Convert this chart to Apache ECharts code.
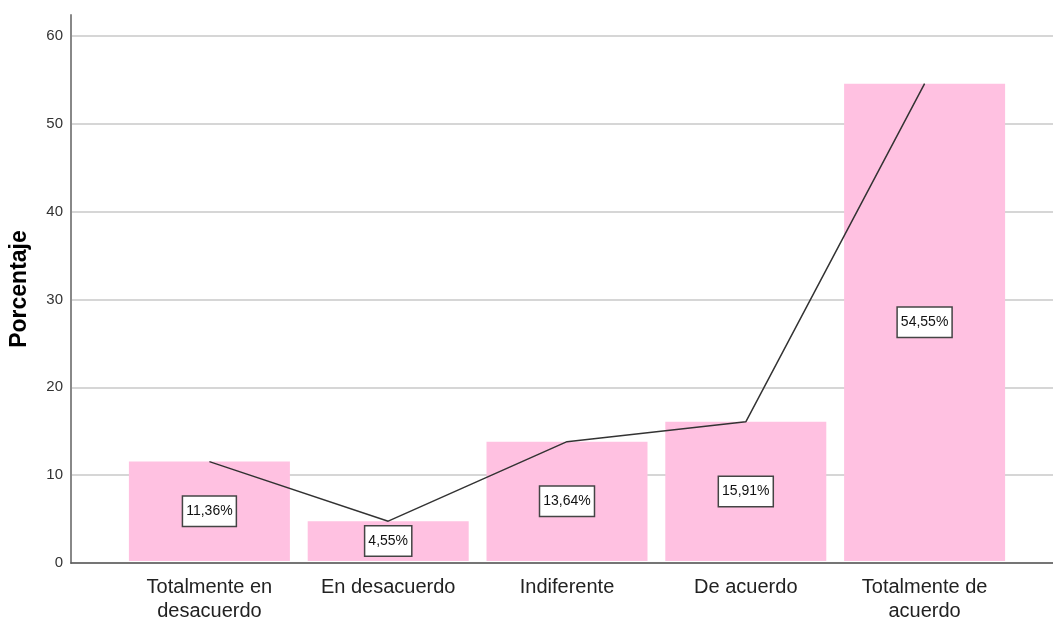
<!DOCTYPE html>
<html>
<head>
<meta charset="utf-8">
<script src="https://cdn.jsdelivr.net/npm/echarts@6/dist/echarts.min.js"></script>
<style>
  html, body { margin: 0; padding: 0; background: #fff; }
  #chart { width: 1053px; height: 623px; }
</style>
</head>
<body>
<div id="chart"></div>
<script>
// datos del gráfico
var categorias = ['Totalmente en\ndesacuerdo', 'En desacuerdo', 'Indiferente', 'De acuerdo', 'Totalmente de\nacuerdo'];
var porcentajes = [11.36, 4.55, 13.64, 15.91, 54.55];
var ticksY = [0, 10, 20, 30, 40, 50, 60];

var fuente = '"Liberation Sans", Arial, sans-serif';
var chart = echarts.init(document.getElementById('chart'));

var option = {
  animation: false,
  // grid 0: ejes y líneas de cuadrícula; grid 1: barras y categorías
  grid: [
    { left: 70, right: 0, top: 15, bottom: 60 },
    { left: 120, right: 39, top: 15, bottom: 60 }
  ],
  xAxis: [
    {
      type: 'value', gridIndex: 0, min: 0, max: 1,
      axisLine: { show: true, lineStyle: { color: '#555', width: 1.5 } },
      axisTick: { show: false },
      axisLabel: { show: false },
      splitLine: { show: false }
    },
    {
      type: 'category', gridIndex: 1, data: categorias,
      axisLine: { show: false },
      axisTick: { show: false },
      axisLabel: {
        interval: 0,
        fontFamily: fuente, fontSize: 20, color: '#222',
        lineHeight: 24, margin: 14
      }
    }
  ],
  yAxis: [
    {
      type: 'value', gridIndex: 0, min: 0, max: 62.4, interval: 10,
      name: 'Porcentaje', nameLocation: 'middle', nameGap: 40,
      nameTextStyle: { fontFamily: fuente, fontWeight: 'bold', fontSize: 23, color: '#000' },
      axisLine: { show: true, lineStyle: { color: '#888', width: 2 } },
      axisTick: { show: false },
      axisLabel: {
        fontFamily: fuente, fontSize: 15, color: '#333', margin: 8,
        formatter: function (v) { return ticksY.indexOf(v) >= 0 ? String(v) : ''; }
      },
      splitLine: { show: true, showMaxLine: false, lineStyle: { color: '#c8c8c8', width: 1.5 } }
    },
    {
      type: 'value', gridIndex: 1, min: 0, max: 62.4, show: false
    }
  ],
  series: [
    {
      type: 'bar', xAxisIndex: 1, yAxisIndex: 1,
      data: porcentajes,
      barWidth: 161,
      itemStyle: { color: '#ffc1e1' },
      label: {
        show: true, position: 'inside',
        formatter: function (p) { return p.value.toFixed(2).replace('.', ',') + '%'; },
        fontFamily: fuente, fontSize: 14, color: '#111',
        backgroundColor: '#fff', borderColor: '#444', borderWidth: 1.5,
        padding: [8, 3, 7, 3]
      }
    },
    {
      type: 'line', xAxisIndex: 1, yAxisIndex: 1,
      data: porcentajes,
      symbol: 'none',
      z: 3,
      lineStyle: { color: '#333', width: 1.5 }
    }
  ]
};

chart.setOption(option);
</script>
</body>
</html>
